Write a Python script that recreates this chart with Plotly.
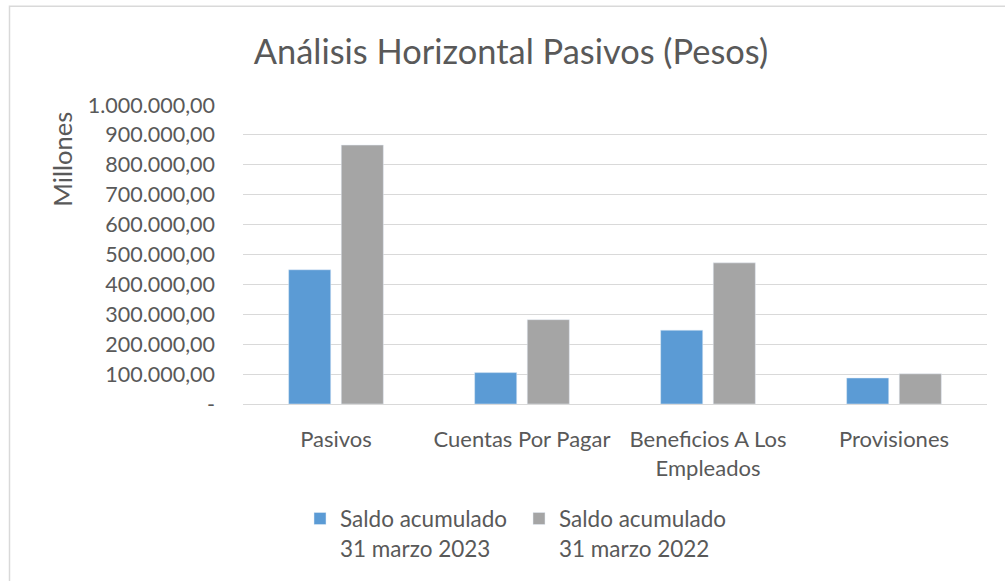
import plotly.graph_objects as go

categories = ["Pasivos", "Cuentas Por Pagar", "Beneficios A Los<br>Empleados", "Provisiones"]
saldo_2023 = [449000, 105000, 247000, 87000]
saldo_2022 = [866000, 282000, 472000, 101000]
series_names = ["Saldo acumulado<br>31 marzo 2023", "Saldo acumulado<br>31 marzo 2022"]
tick_vals = [0, 100000, 200000, 300000, 400000, 500000, 600000, 700000, 800000, 900000, 1000000]
tick_text = ["-", "100.000,00", "200.000,00", "300.000,00", "400.000,00", "500.000,00",
             "600.000,00", "700.000,00", "800.000,00", "900.000,00", "1.000.000,00"]

FONT = "Lato"
TXT = "#595959"

W, H = 1005, 581
L, R, T, B = 243, 18, 105, 175
pw, ph = W - L - R, H - T - B

def px_x(x):
    return (x - L) / pw

def px_y(y):
    return (H - B - y) / ph

fig = go.Figure()
fig.add_trace(go.Bar(x=categories, y=saldo_2023, name=series_names[0], marker_color="#5B9BD5"))
fig.add_trace(go.Bar(x=categories, y=saldo_2022, name=series_names[1], marker_color="#A5A5A5"))

fig.update_layout(
    width=W, height=H,
    margin=dict(l=L, r=R, t=T, b=B),
    paper_bgcolor="white", plot_bgcolor="white",
    font=dict(family=FONT, color=TXT, size=21),
    barmode="group", bargap=0.434, bargroupgap=0.2,
    title=dict(text="Análisis Horizontal Pasivos (Pesos)", x=511 / W, xref="container",
               xanchor="center", y=1 - 52 / H, yanchor="middle",
               font=dict(family=FONT, size=34.4, color=TXT)),
    showlegend=True,
    legend=dict(orientation="h", x=px_x(300), xanchor="left", y=px_y(500), yanchor="top",
                valign="top", font=dict(size=22.5, color=TXT), itemwidth=30,
                entrywidth=174, bgcolor="rgba(0,0,0,0)"),
    xaxis=dict(showline=False, showgrid=False, ticks="", tickfont=dict(size=22, color=TXT),
               ticklabelstandoff=20),
    yaxis=dict(range=[0, 1000000], tickvals=tick_vals, ticktext=tick_text,
               showgrid=True, gridcolor="#D9D9D9", gridwidth=1, zeroline=True,
               zerolinecolor="#D9D9D9", zerolinewidth=1, showline=False, ticks="",
               tickfont=dict(size=21.5, color=TXT), ticklabelstandoff=27),
)

fig.add_annotation(text="Millones", xref="paper", yref="paper", x=px_x(62), y=px_y(160),
                   textangle=-90, showarrow=False, xanchor="center", yanchor="middle",
                   font=dict(family=FONT, size=25.5, color=TXT))

fig.add_shape(type="rect", xref="paper", yref="paper",
              x0=px_x(9.5), x1=px_x(1010), y0=px_y(590), y1=px_y(5.5),
              line=dict(color="#D9D9D9", width=1.5), fillcolor="rgba(0,0,0,0)", layer="below")

fig.write_html("out.html", config={"displayModeBar": False},
               post_script="document.body.style.margin='0px';")
